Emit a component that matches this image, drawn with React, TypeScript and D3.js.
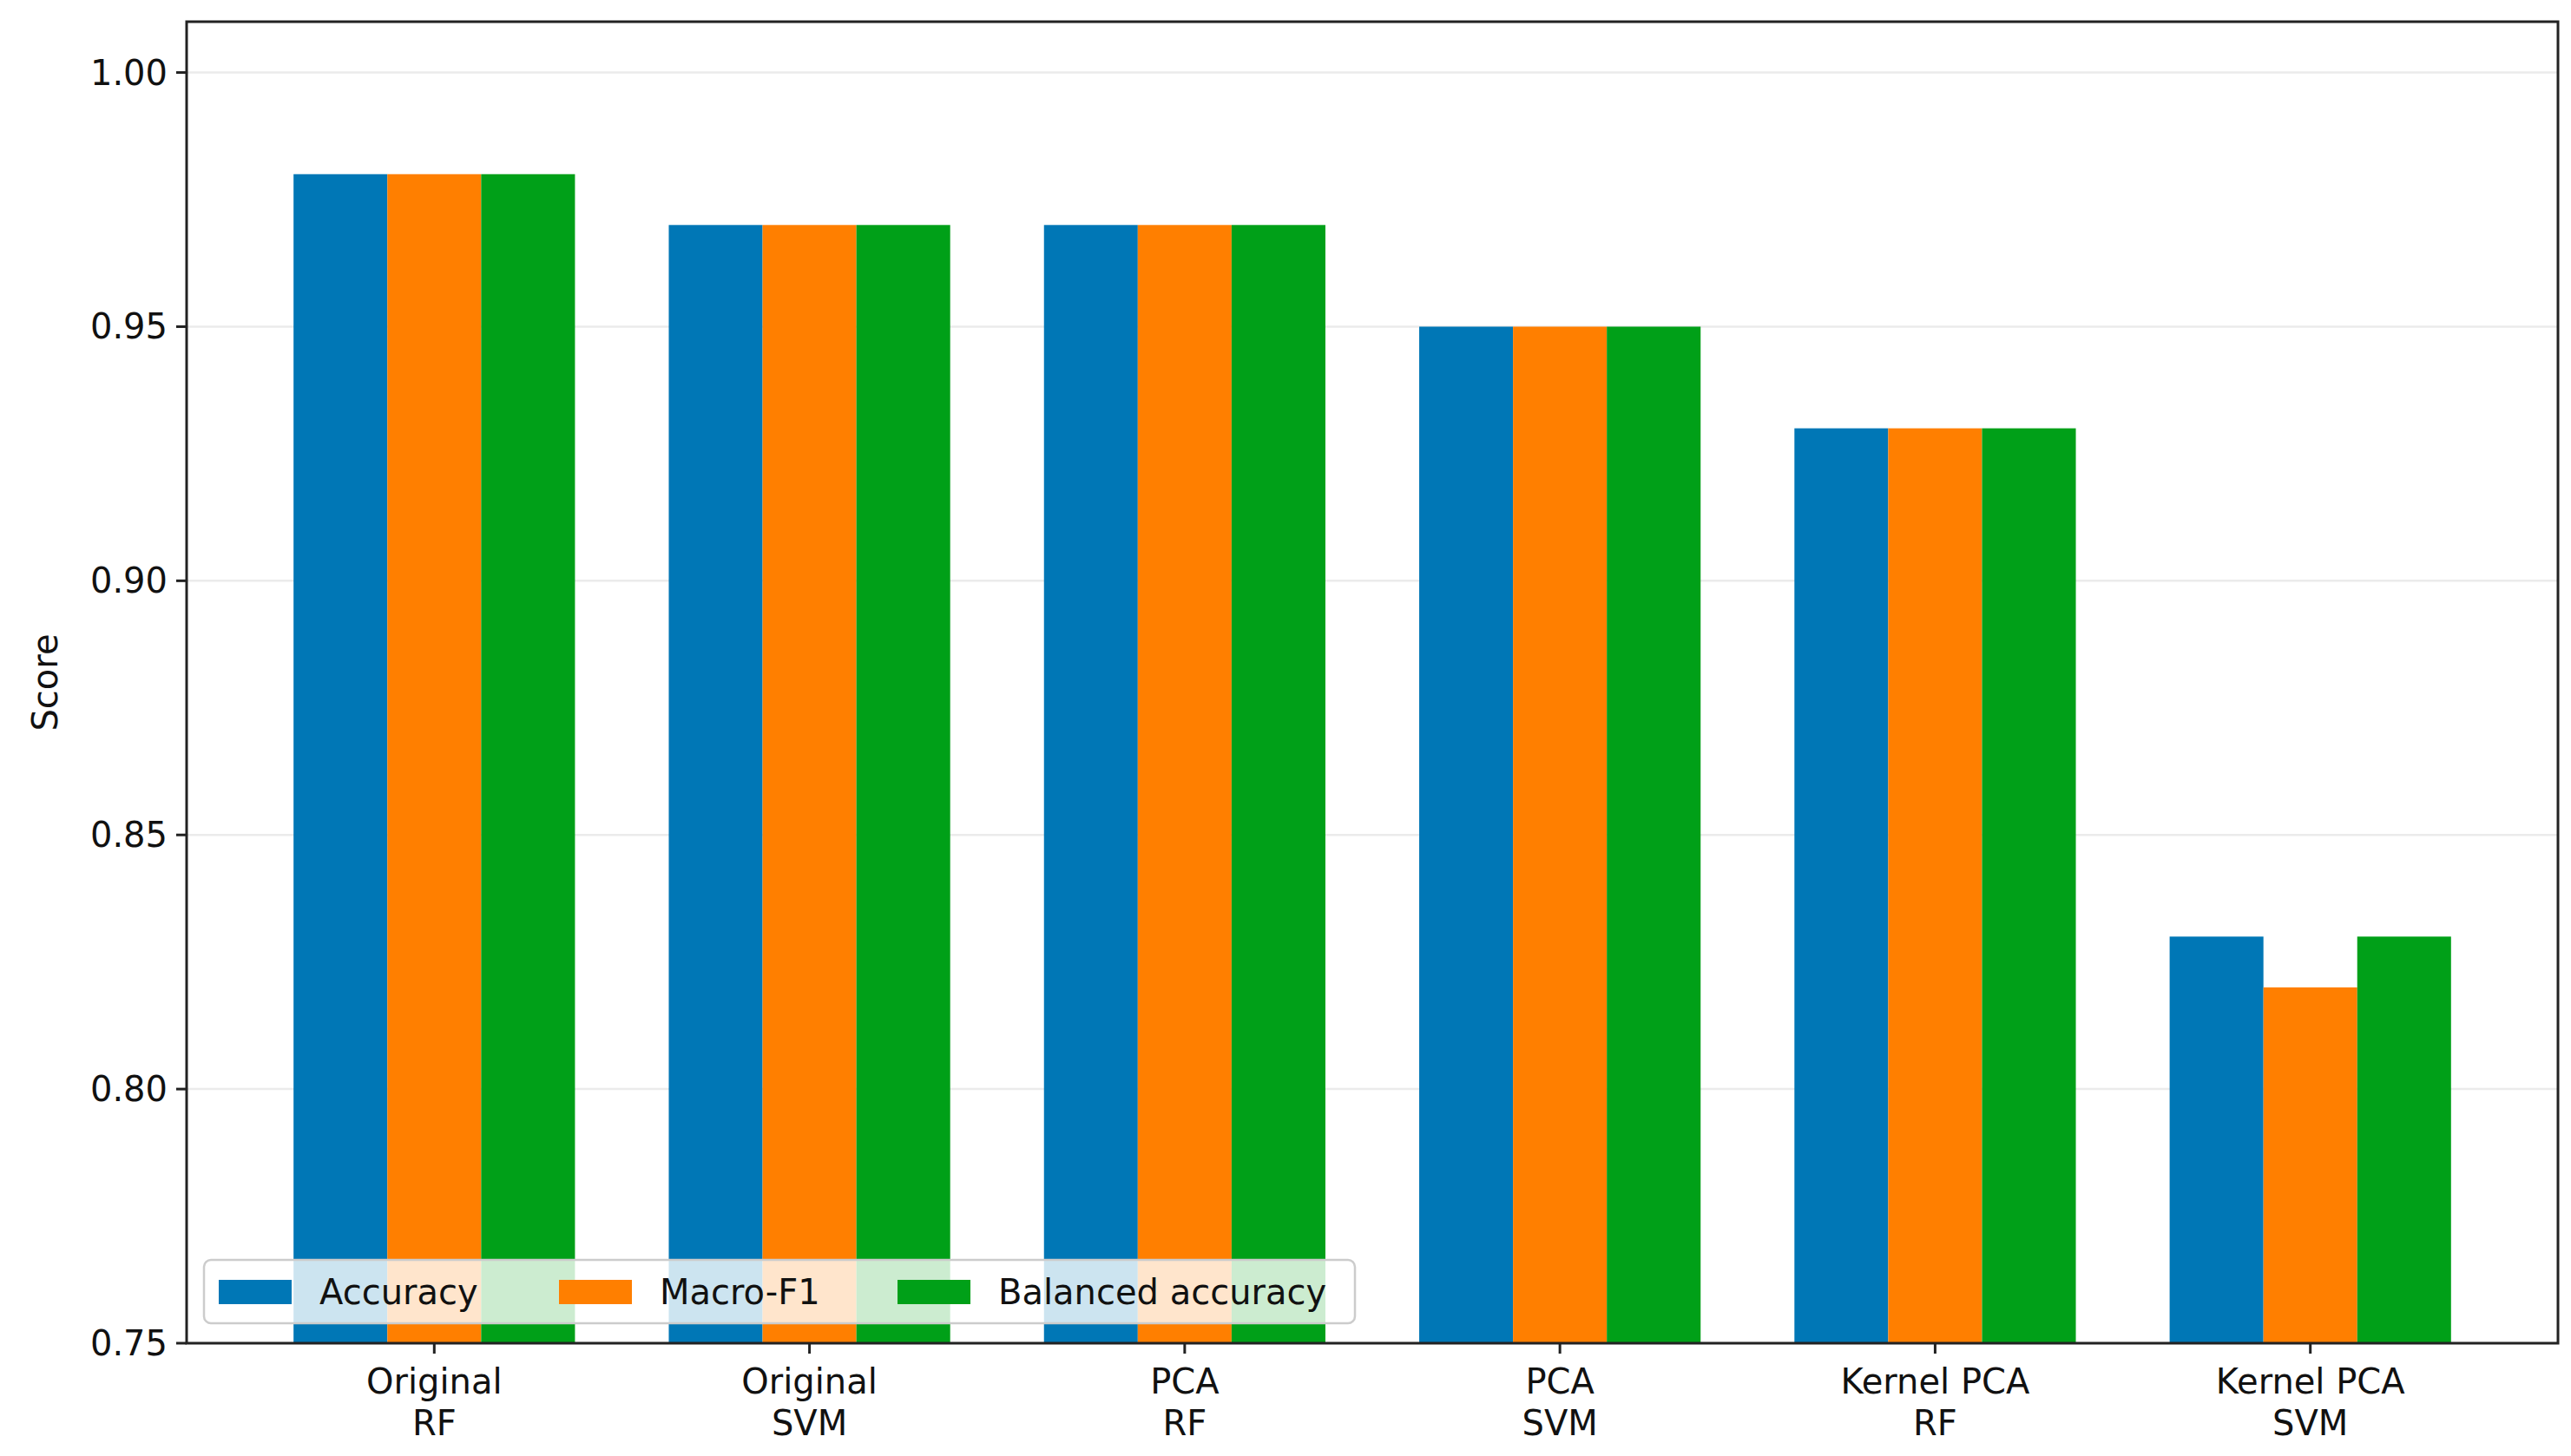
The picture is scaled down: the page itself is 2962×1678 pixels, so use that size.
import React from "react";
import * as d3 from "d3";

const categories = ["Original\nRF", "Original\nSVM", "PCA\nRF", "PCA\nSVM", "Kernel PCA\nRF", "Kernel PCA\nSVM"];
const seriesNames = ["Accuracy", "Macro-F1", "Balanced accuracy"];
const accuracy = [0.98, 0.97, 0.97, 0.95, 0.93, 0.83];
const macroF1 = [0.98, 0.97, 0.97, 0.95, 0.93, 0.82];
const balanced = [0.98, 0.97, 0.97, 0.95, 0.93, 0.83];
const yTicks = [0.75, 0.8, 0.85, 0.9, 0.95, 1.0];
const colors = ["#0077b6", "#ff7f00", "#00a018"];

const W = 2962, H = 1678;
const L = 215, R = 2947, T = 25, B = 1548;
const FONT = "DejaVu Sans";
const FS = 40;

export default function App() {
  const series = [accuracy, macroF1, balanced];
  const x = d3.scaleLinear().domain([-0.66, 5.66]).range([L, R]);
  const y = d3.scaleLinear().domain([0.75, 1.01]).range([B, T]);
  const bw = x(0.25) - x(0);
  return (
    <svg width={W} height={H} style={{ position: "absolute", left: 0, top: 0, background: "#fff" }} fontFamily={FONT}>
      {yTicks.map((t) => (
        <line key={"g" + t} x1={L} x2={R} y1={y(t)} y2={y(t)} stroke="#ebebeb" strokeWidth={2.5} />
      ))}
      {series.map((s, si) =>
        s.map((v, i) => (
          <rect key={si + "-" + i} x={x(i + (si - 1) * 0.25) - bw / 2} y={y(v)} width={bw} height={B - y(v)} fill={colors[si]} />
        ))
      )}
      <rect x={L} y={T} width={R - L} height={B - T} fill="none" stroke="#222" strokeWidth={3} />
      {yTicks.map((t) => (
        <g key={"t" + t}>
          <line x1={L - 12} x2={L} y1={y(t)} y2={y(t)} stroke="#222" strokeWidth={3} />
          <text x={L - 22} y={y(t)} dy="0.35em" textAnchor="end" fontSize={FS} fill="#111">{t.toFixed(2)}</text>
        </g>
      ))}
      {categories.map((c, i) => (
        <g key={"c" + i}>
          <line x1={x(i)} x2={x(i)} y1={B} y2={B + 12} stroke="#222" strokeWidth={3} />
          {c.split("\n").map((ln, j) => (
            <text key={j} x={x(i)} y={B + 58 + j * 48} textAnchor="middle" fontSize={FS} fill="#111">{ln}</text>
          ))}
        </g>
      ))}
      <text transform={`translate(66,${(T + B) / 2}) rotate(-90)`} textAnchor="middle" fontSize={FS} fill="#111">Score</text>
      <g>
        <rect x={235} y={1452} width={1326} height={73} rx={8} fill="#fff" fillOpacity={0.8} stroke="#ccc" strokeWidth={2.5} />
        {seriesNames.map((n, i) => {
          const offs = [0, 392, 782];
          const hx = 252 + offs[i];
          return (
            <g key={n}>
              <rect x={hx} y={1475} width={84} height={28} fill={colors[i]} />
              <text x={hx + 116} y={1489} dy="0.35em" fontSize={FS} fill="#111">{n}</text>
            </g>
          );
        })}
      </g>
    </svg>
  );
}
